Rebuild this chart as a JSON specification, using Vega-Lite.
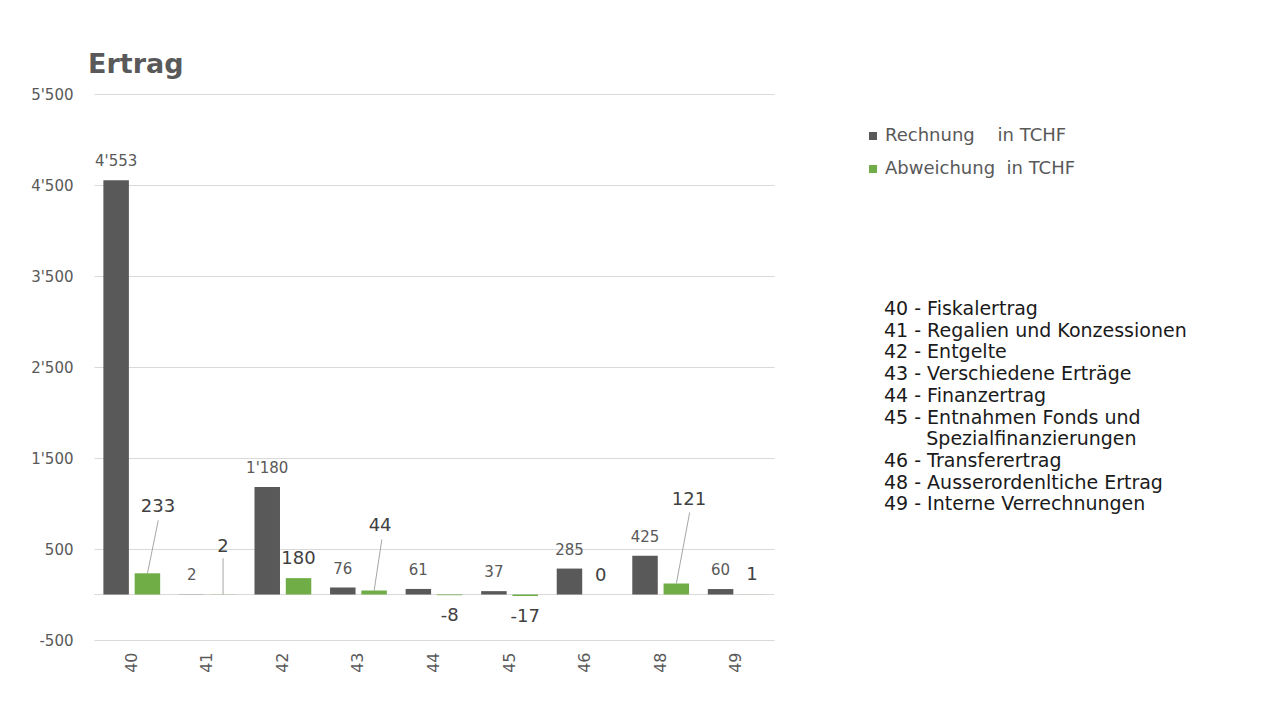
{
  "$schema": "https://vega.github.io/schema/vega-lite/v6.json",
  "width": 680,
  "height": 546,
  "autosize": {"type": "none"},
  "padding": {"left": 94, "top": 94, "right": 504, "bottom": 61},
  "background": "white",
  "config": {
    "font": "DejaVu Sans",
    "locale": {"number": {"decimal": ".", "thousands": "'", "grouping": [3], "currency": ["", ""], "minus": "-"}},
    "view": {"stroke": null}
  },
  "title": {
    "text": "Ertrag",
    "anchor": "start",
    "frame": "group",
    "font": "DejaVu Sans",
    "fontSize": 27,
    "fontWeight": "bold",
    "color": "#595959",
    "dx": -6,
    "offset": 8
  },
  "data": {
    "values": [
      {"cat": "40", "series": "Rechnung", "value": 4553},
      {"cat": "41", "series": "Rechnung", "value": 2},
      {"cat": "42", "series": "Rechnung", "value": 1180},
      {"cat": "43", "series": "Rechnung", "value": 76},
      {"cat": "44", "series": "Rechnung", "value": 61},
      {"cat": "45", "series": "Rechnung", "value": 37},
      {"cat": "46", "series": "Rechnung", "value": 285},
      {"cat": "48", "series": "Rechnung", "value": 425},
      {"cat": "49", "series": "Rechnung", "value": 60},
      {"cat": "40", "series": "Abweichung", "value": 233},
      {"cat": "41", "series": "Abweichung", "value": 2},
      {"cat": "42", "series": "Abweichung", "value": 180},
      {"cat": "43", "series": "Abweichung", "value": 44},
      {"cat": "44", "series": "Abweichung", "value": -8},
      {"cat": "45", "series": "Abweichung", "value": -17},
      {"cat": "46", "series": "Abweichung", "value": 0},
      {"cat": "48", "series": "Abweichung", "value": 121},
      {"cat": "49", "series": "Abweichung", "value": 1}
    ]
  },
  "encoding": {
    "x": {
      "field": "cat", "type": "nominal",
      "scale": {"paddingInner": 0, "paddingOuter": 0},
      "axis": {
        "title": null, "labelAngle": -90, "domain": false, "ticks": false,
        "labelPadding": 12, "labelFontSize": 16, "labelColor": "#595959", "labelFont": "DejaVu Sans"
      }
    },
    "y": {
      "field": "value", "type": "quantitative",
      "scale": {"domain": [-500, 5500], "nice": false, "zero": false},
      "axis": {
        "title": null, "values": [-500, 500, 1500, 2500, 3500, 4500, 5500],
        "format": ",d", "domain": false, "ticks": false, "grid": true, "gridColor": "#d9d9d9",
        "labelPadding": 21, "labelFontSize": 15, "labelColor": "#595959", "labelFont": "DejaVu Sans"
      }
    }
  },
  "layer": [
    {
      "mark": {"type": "rule", "color": "#d9d9d9", "strokeWidth": 1},
      "encoding": {"y": {"datum": 0}, "x": null}
    },
    {
      "mark": {"type": "bar"},
      "encoding": {
        "xOffset": {"field": "series", "type": "nominal", "sort": ["Rechnung", "Abweichung"], "scale": {"paddingInner": 0.185, "paddingOuter": 0.3}},
        "color": {
          "field": "series", "type": "nominal", "sort": ["Rechnung", "Abweichung"],
          "scale": {"domain": ["Rechnung", "Abweichung"], "range": ["#595959", "#70AD47"]},
          "legend": {
            "orient": "none", "legendX": 770, "legendY": 33, "title": null, "padding": 0,
            "symbolType": "square", "symbolSize": 64, "symbolStrokeWidth": 0,
            "labelFontSize": 18, "labelColor": "#595959", "labelFont": "DejaVu Sans",
            "rowPadding": 15, "labelOffset": 3, "labelLimit": 400,
            "labelExpr": "datum.label == 'Rechnung' ? 'Rechnung\u00a0\u00a0\u00a0\u00a0in TCHF' : 'Abweichung\u00a0\u00a0in TCHF'"
          }
        }
      }
    },
    {
      "transform": [{"filter": "datum.series == 'Rechnung'"}],
      "mark": {"type": "text", "dy": -19, "fontSize": 15, "color": "#595959", "baseline": "middle"},
      "encoding": {
        "xOffset": {"field": "series", "type": "nominal", "sort": ["Rechnung", "Abweichung"]},
        "text": {"field": "value", "type": "quantitative", "format": ",d"}
      }
    },
    {
      "transform": [{"filter": "datum.series == 'Abweichung' && (datum.cat == '42' || datum.cat == '46' || datum.cat == '49')"}],
      "mark": {"type": "text", "dy": -19, "fontSize": 18, "color": "#404040", "baseline": "middle"},
      "encoding": {
        "xOffset": {"field": "series", "type": "nominal", "sort": ["Rechnung", "Abweichung"]},
        "text": {"field": "value", "type": "quantitative", "format": ",d"}
      }
    },
    {
      "transform": [{"filter": "datum.series == 'Abweichung' && datum.value < 0"}],
      "mark": {"type": "text", "dy": 21, "fontSize": 18, "color": "#404040", "baseline": "middle"},
      "encoding": {
        "xOffset": {"field": "series", "type": "nominal", "sort": ["Rechnung", "Abweichung"]},
        "text": {"field": "value", "type": "quantitative", "format": ",d"}
      }
    },
    {
      "transform": [{"filter": "datum.series == 'Abweichung' && datum.cat == '40'"}],
      "mark": {"type": "text", "dx": 10.5, "dy": -66, "fontSize": 18, "color": "#404040", "baseline": "middle"},
      "encoding": {
        "xOffset": {"field": "series", "type": "nominal", "sort": ["Rechnung", "Abweichung"]},
        "text": {"field": "value", "type": "quantitative", "format": ",d"}
      }
    },
    {
      "transform": [{"filter": "datum.series == 'Abweichung' && datum.cat == '41'"}],
      "mark": {"type": "text", "dx": 0, "dy": -47, "fontSize": 18, "color": "#404040", "baseline": "middle"},
      "encoding": {
        "xOffset": {"field": "series", "type": "nominal", "sort": ["Rechnung", "Abweichung"]},
        "text": {"field": "value", "type": "quantitative", "format": ",d"}
      }
    },
    {
      "transform": [{"filter": "datum.series == 'Abweichung' && datum.cat == '43'"}],
      "mark": {"type": "text", "dx": 6, "dy": -64.5, "fontSize": 18, "color": "#404040", "baseline": "middle"},
      "encoding": {
        "xOffset": {"field": "series", "type": "nominal", "sort": ["Rechnung", "Abweichung"]},
        "text": {"field": "value", "type": "quantitative", "format": ",d"}
      }
    },
    {
      "transform": [{"filter": "datum.series == 'Abweichung' && datum.cat == '48'"}],
      "mark": {"type": "text", "dx": 12.6, "dy": -83.5, "fontSize": 18, "color": "#404040", "baseline": "middle"},
      "encoding": {
        "xOffset": {"field": "series", "type": "nominal", "sort": ["Rechnung", "Abweichung"]},
        "text": {"field": "value", "type": "quantitative", "format": ",d"}
      }
    },
    {
      "transform": [{"filter": "datum.series == 'Abweichung' && datum.cat == '40'"}],
      "mark": {"type": "rule", "color": "#a6a6a6", "strokeWidth": 1, "xOffset": 15.7, "x2Offset": 26.5, "y2Offset": -53},
      "encoding": {
        "x": {"field": "cat", "type": "nominal", "bandPosition": 0.5},
        "x2": {"field": "cat", "bandPosition": 0.5},
        "y2": {"field": "value"}
      }
    },
    {
      "transform": [{"filter": "datum.series == 'Abweichung' && datum.cat == '41'"}],
      "mark": {"type": "rule", "color": "#a6a6a6", "strokeWidth": 1, "xOffset": 15.7, "x2Offset": 15.7, "y2Offset": -36},
      "encoding": {
        "x": {"field": "cat", "type": "nominal", "bandPosition": 0.5},
        "x2": {"field": "cat", "bandPosition": 0.5},
        "y2": {"field": "value"}
      }
    },
    {
      "transform": [{"filter": "datum.series == 'Abweichung' && datum.cat == '43'"}],
      "mark": {"type": "rule", "color": "#a6a6a6", "strokeWidth": 1, "xOffset": 15.7, "x2Offset": 23.4, "y2Offset": -51},
      "encoding": {
        "x": {"field": "cat", "type": "nominal", "bandPosition": 0.5},
        "x2": {"field": "cat", "bandPosition": 0.5},
        "y2": {"field": "value"}
      }
    },
    {
      "transform": [{"filter": "datum.series == 'Abweichung' && datum.cat == '48'"}],
      "mark": {"type": "rule", "color": "#a6a6a6", "strokeWidth": 1, "xOffset": 15.7, "x2Offset": 29, "y2Offset": -71},
      "encoding": {
        "x": {"field": "cat", "type": "nominal", "bandPosition": 0.5},
        "x2": {"field": "cat", "bandPosition": 0.5},
        "y2": {"field": "value"}
      }
    },
    {
      "data": {
        "values": [
          {"desc": "40 - Fiskalertrag"},
          {"desc": "41 - Regalien und Konzessionen"},
          {"desc": "42 - Entgelte"},
          {"desc": "43 - Verschiedene Erträge"},
          {"desc": "44 - Finanzertrag"},
          {"desc": "45 - Entnahmen Fonds und"},
          {"desc": "\u200b\u00a0\u00a0\u00a0\u00a0\u00a0\u00a0\u00a0Spezialfinanzierungen"},
          {"desc": "46 - Transferertrag"},
          {"desc": "48 - Ausserordenltiche Ertrag"},
          {"desc": "49 - Interne Verrechnungen"}
        ]
      },
      "mark": {"type": "point", "opacity": 0},
      "encoding": {
        "x": null,
        "y": null,
        "shape": {
          "field": "desc", "type": "nominal", "sort": null,
          "legend": {
            "orient": "none", "legendX": 771, "legendY": 205.5, "title": null, "padding": 0,
            "symbolSize": 0, "symbolOpacity": 0, "symbolStrokeWidth": 0,
            "labelFontSize": 19, "labelColor": "#1a1a1a", "labelFont": "DejaVu Sans",
            "labelLimit": 500, "rowPadding": 1.7, "labelOffset": 0
          }
        }
      }
    }
  ]
}
